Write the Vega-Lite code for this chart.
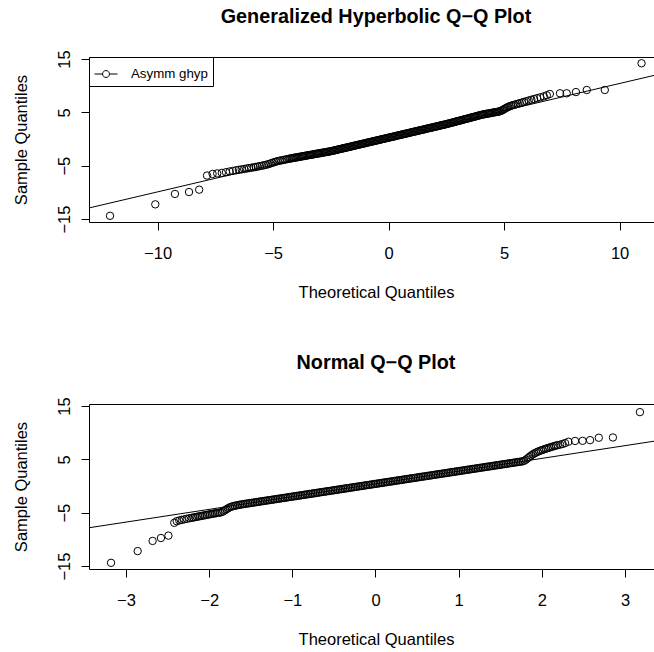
{
"$schema": "https://vega.github.io/schema/vega-lite/v6.json",
"padding": {"left": 12, "top": 7, "right": 0, "bottom": 0},
"bounds": "flush",
"spacing": 182,
"resolve": {"scale": {"color": "independent"}, "legend": {"color": "independent"}},
"config": {
  "font": "Liberation Sans",
  "view": {"stroke": null},
  "axis": {"grid": false, "domainColor": "black", "tickColor": "black", "labelColor": "black", "titleColor": "black", "labelFont": "Liberation Sans", "titleFont": "Liberation Sans", "labelFontSize": 16.5, "titleFontSize": 16.5, "titleFontWeight": "normal", "tickSize": 8, "domainWidth": 1, "tickWidth": 1, "labelFlush": false, "labelOverlap": false},
  "title": {"font": "Liberation Sans", "fontSize": 19.8, "fontWeight": "bold", "color": "black", "baseline": "alphabetic", "offset": 23, "dx": 4.5, "anchor": "middle"}
},
"datasets": {
"ghypLine": [{"q": -13.5, "s": -13.47}, {"q": 12.5, "s": 12.95}],
"normLine": [{"q": -3.6, "s": -8.2}, {"q": 3.6, "s": 9.0}],
"ghyp": [
{"q":-12.06,"s":-14.4},{"q":-10.1,"s":-12.25},{"q":-9.25,"s":-10.3},{"q":-8.64,"s":-9.94},{"q":-8.2,"s":-9.5},{"q":-7.86,"s":-6.85},
{"q":-7.62,"s":-6.55},{"q":-7.42,"s":-6.45},{"q":-7.22,"s":-6.35},{"q":-7.04,"s":-6.22},{"q":-6.88,"s":-6.08},{"q":-6.74,"s":-5.97},{"q":-6.6,"s":-5.86},{"q":-6.48,"s":-5.77},{"q":-6.36,"s":-5.69},{"q":-6.25,"s":-5.61},{"q":-6.14,"s":-5.53},{"q":-6.04,"s":-5.45},{"q":-5.94,"s":-5.38},{"q":-5.84,"s":-5.31},{"q":-5.75,"s":-5.24},{"q":-5.66,"s":-5.16},{"q":-5.57,"s":-5.08},{"q":-5.48,"s":-5.0},{"q":-5.39,"s":-4.92},{"q":-5.3,"s":-4.83},{"q":-5.21,"s":-4.72},{"q":-5.12,"s":-4.6},{"q":-5.04,"s":-4.47},{"q":-4.96,"s":-4.35},{"q":-4.88,"s":-4.24},{"q":-4.8,"s":-4.15},{"q":-4.72,"s":-4.07},{"q":-4.64,"s":-4.0},{"q":-4.56,"s":-3.93},{"q":-4.48,"s":-3.86},{"q":-4.4,"s":-3.79},{"q":-4.32,"s":-3.72},
{"q":-4.25,"s":-3.65},{"q":-4.2,"s":-3.61},{"q":-4.15,"s":-3.57},{"q":-4.1,"s":-3.53},{"q":-4.05,"s":-3.49},{"q":-4.0,"s":-3.45},{"q":-3.95,"s":-3.42},{"q":-3.9,"s":-3.38},{"q":-3.85,"s":-3.34},{"q":-3.8,"s":-3.3},{"q":-3.75,"s":-3.26},{"q":-3.7,"s":-3.22},{"q":-3.65,"s":-3.18},{"q":-3.6,"s":-3.14},{"q":-3.55,"s":-3.1},{"q":-3.5,"s":-3.07},{"q":-3.45,"s":-3.03},{"q":-3.4,"s":-2.99},{"q":-3.35,"s":-2.95},{"q":-3.3,"s":-2.91},{"q":-3.25,"s":-2.87},{"q":-3.2,"s":-2.83},{"q":-3.15,"s":-2.79},{"q":-3.1,"s":-2.75},{"q":-3.05,"s":-2.72},{"q":-3.0,"s":-2.68},{"q":-2.95,"s":-2.64},{"q":-2.9,"s":-2.6},{"q":-2.85,"s":-2.56},{"q":-2.8,"s":-2.52},{"q":-2.75,"s":-2.48},{"q":-2.7,"s":-2.45},{"q":-2.65,"s":-2.41},{"q":-2.6,"s":-2.37},{"q":-2.55,"s":-2.33},
{"q":-2.5,"s":-2.29},{"q":-2.45,"s":-2.24},{"q":-2.4,"s":-2.19},{"q":-2.35,"s":-2.14},{"q":-2.3,"s":-2.09},{"q":-2.25,"s":-2.04},{"q":-2.2,"s":-1.99},{"q":-2.15,"s":-1.93},{"q":-2.1,"s":-1.88},{"q":-2.05,"s":-1.83},{"q":-2.0,"s":-1.78},{"q":-1.95,"s":-1.73},{"q":-1.9,"s":-1.68},{"q":-1.85,"s":-1.63},{"q":-1.8,"s":-1.58},{"q":-1.75,"s":-1.53},{"q":-1.7,"s":-1.48},{"q":-1.65,"s":-1.43},{"q":-1.6,"s":-1.38},{"q":-1.55,"s":-1.32},{"q":-1.5,"s":-1.27},{"q":-1.45,"s":-1.22},{"q":-1.4,"s":-1.17},{"q":-1.35,"s":-1.12},{"q":-1.3,"s":-1.07},{"q":-1.25,"s":-1.02},{"q":-1.2,"s":-0.97},{"q":-1.15,"s":-0.92},{"q":-1.1,"s":-0.87},{"q":-1.05,"s":-0.82},{"q":-1.0,"s":-0.77},{"q":-0.95,"s":-0.72},{"q":-0.9,"s":-0.66},{"q":-0.85,"s":-0.61},{"q":-0.8,"s":-0.56},{"q":-0.75,"s":-0.51},{"q":-0.7,"s":-0.46},{"q":-0.65,"s":-0.41},{"q":-0.6,"s":-0.36},{"q":-0.55,"s":-0.31},{"q":-0.5,"s":-0.26},{"q":-0.45,"s":-0.21},{"q":-0.4,"s":-0.16},{"q":-0.35,"s":-0.11},{"q":-0.3,"s":-0.05},{"q":-0.25,"s":0.0},{"q":-0.2,"s":0.05},{"q":-0.15,"s":0.1},{"q":-0.1,"s":0.15},{"q":-0.05,"s":0.2},{"q":0.0,"s":0.25},{"q":0.05,"s":0.3},{"q":0.1,"s":0.35},{"q":0.15,"s":0.4},{"q":0.2,"s":0.45},{"q":0.25,"s":0.5},{"q":0.3,"s":0.55},{"q":0.35,"s":0.61},{"q":0.4,"s":0.66},{"q":0.45,"s":0.71},{"q":0.5,"s":0.76},{"q":0.55,"s":0.81},{"q":0.6,"s":0.86},{"q":0.65,"s":0.91},{"q":0.7,"s":0.96},{"q":0.75,"s":1.01},{"q":0.8,"s":1.06},{"q":0.85,"s":1.11},{"q":0.9,"s":1.16},{"q":0.95,"s":1.22},{"q":1.0,"s":1.27},{"q":1.05,"s":1.32},{"q":1.1,"s":1.37},{"q":1.15,"s":1.42},{"q":1.2,"s":1.47},{"q":1.25,"s":1.52},{"q":1.3,"s":1.57},{"q":1.35,"s":1.62},{"q":1.4,"s":1.67},{"q":1.45,"s":1.72},{"q":1.5,"s":1.77},{"q":1.55,"s":1.82},{"q":1.6,"s":1.88},{"q":1.65,"s":1.93},{"q":1.7,"s":1.98},{"q":1.75,"s":2.03},{"q":1.8,"s":2.08},{"q":1.85,"s":2.13},{"q":1.9,"s":2.18},{"q":1.95,"s":2.23},{"q":2.0,"s":2.28},{"q":2.05,"s":2.33},{"q":2.1,"s":2.38},{"q":2.15,"s":2.43},{"q":2.2,"s":2.49},{"q":2.25,"s":2.54},{"q":2.3,"s":2.59},{"q":2.35,"s":2.64},{"q":2.4,"s":2.69},{"q":2.45,"s":2.74},
{"q":2.5,"s":2.79},{"q":2.55,"s":2.85},{"q":2.6,"s":2.9},{"q":2.65,"s":2.96},{"q":2.7,"s":3.02},{"q":2.75,"s":3.08},{"q":2.8,"s":3.13},{"q":2.85,"s":3.19},{"q":2.9,"s":3.25},{"q":2.95,"s":3.31},{"q":3.0,"s":3.36},{"q":3.05,"s":3.42},{"q":3.1,"s":3.48},{"q":3.15,"s":3.53},{"q":3.2,"s":3.59},{"q":3.25,"s":3.65},{"q":3.3,"s":3.71},{"q":3.35,"s":3.76},{"q":3.4,"s":3.82},{"q":3.45,"s":3.88},{"q":3.5,"s":3.94},{"q":3.55,"s":3.99},{"q":3.6,"s":4.05},{"q":3.65,"s":4.11},{"q":3.7,"s":4.16},{"q":3.75,"s":4.22},{"q":3.8,"s":4.28},{"q":3.85,"s":4.34},{"q":3.9,"s":4.39},{"q":3.95,"s":4.45},{"q":4.0,"s":4.51},{"q":4.05,"s":4.57},
{"q":4.1,"s":4.61},{"q":4.15,"s":4.65},{"q":4.2,"s":4.69},{"q":4.25,"s":4.73},{"q":4.3,"s":4.77},{"q":4.35,"s":4.81},{"q":4.4,"s":4.85},{"q":4.45,"s":4.89},{"q":4.5,"s":4.93},{"q":4.55,"s":4.97},{"q":4.6,"s":5.01},{"q":4.65,"s":5.05},{"q":4.7,"s":5.09},{"q":4.75,"s":5.13},{"q":4.8,"s":5.18},{"q":4.85,"s":5.25},{"q":4.9,"s":5.34},{"q":4.95,"s":5.46},{"q":5.0,"s":5.6},{"q":5.06,"s":5.75},{"q":5.12,"s":5.9},{"q":5.18,"s":6.03},{"q":5.24,"s":6.14},{"q":5.3,"s":6.24},{"q":5.37,"s":6.33},{"q":5.44,"s":6.42},{"q":5.52,"s":6.52},{"q":5.6,"s":6.62},{"q":5.68,"s":6.72},{"q":5.77,"s":6.83},{"q":5.86,"s":6.95},{"q":5.96,"s":7.08},{"q":6.07,"s":7.22},{"q":6.18,"s":7.36},{"q":6.3,"s":7.5},{"q":6.43,"s":7.66},{"q":6.57,"s":7.82},{"q":6.72,"s":8.0},{"q":6.85,"s":8.2},
{"q":6.98,"s":8.44},{"q":7.42,"s":8.57},{"q":7.71,"s":8.57},{"q":8.11,"s":8.8},{"q":8.58,"s":9.19},{"q":9.36,"s":9.19},{"q":10.95,"s":14.2}
],
"norm": [
{"q":-3.18,"s":-14.4},{"q":-2.86,"s":-12.2},{"q":-2.68,"s":-10.3},{"q":-2.58,"s":-9.75},{"q":-2.49,"s":-9.3},{"q":-2.42,"s":-6.9},
{"q":-2.39,"s":-6.6},{"q":-2.36,"s":-6.45},{"q":-2.33,"s":-6.35},{"q":-2.3,"s":-6.25},{"q":-2.27,"s":-6.15},{"q":-2.24,"s":-6.05},{"q":-2.21,"s":-5.97},{"q":-2.19,"s":-5.9},{"q":-2.17,"s":-5.84},{"q":-2.15,"s":-5.78},{"q":-2.13,"s":-5.72},{"q":-2.11,"s":-5.66},{"q":-2.09,"s":-5.6},{"q":-2.07,"s":-5.54},{"q":-2.05,"s":-5.48},{"q":-2.03,"s":-5.42},{"q":-2.01,"s":-5.36},{"q":-1.99,"s":-5.3},{"q":-1.97,"s":-5.24},{"q":-1.95,"s":-5.18},{"q":-1.93,"s":-5.13},{"q":-1.91,"s":-5.08},{"q":-1.89,"s":-5.03},{"q":-1.87,"s":-4.98},{"q":-1.85,"s":-4.9},{"q":-1.83,"s":-4.75},{"q":-1.81,"s":-4.55},{"q":-1.79,"s":-4.35},{"q":-1.77,"s":-4.15},{"q":-1.75,"s":-3.98},{"q":-1.73,"s":-3.86},{"q":-1.71,"s":-3.77},{"q":-1.69,"s":-3.7},{"q":-1.67,"s":-3.64},{"q":-1.65,"s":-3.57},{"q":-1.63,"s":-3.5},
{"q":-1.61,"s":-3.45},{"q":-1.59,"s":-3.4},{"q":-1.57,"s":-3.35},{"q":-1.55,"s":-3.3},{"q":-1.53,"s":-3.26},{"q":-1.51,"s":-3.21},{"q":-1.49,"s":-3.16},{"q":-1.47,"s":-3.11},{"q":-1.45,"s":-3.07},{"q":-1.43,"s":-3.02},{"q":-1.41,"s":-2.97},{"q":-1.39,"s":-2.92},{"q":-1.37,"s":-2.87},{"q":-1.35,"s":-2.83},{"q":-1.33,"s":-2.78},{"q":-1.31,"s":-2.73},{"q":-1.29,"s":-2.68},{"q":-1.27,"s":-2.64},{"q":-1.25,"s":-2.59},{"q":-1.23,"s":-2.54},{"q":-1.21,"s":-2.49},{"q":-1.19,"s":-2.44},{"q":-1.17,"s":-2.4},{"q":-1.15,"s":-2.35},{"q":-1.13,"s":-2.3},{"q":-1.11,"s":-2.25},{"q":-1.09,"s":-2.21},{"q":-1.07,"s":-2.16},{"q":-1.05,"s":-2.11},{"q":-1.03,"s":-2.06},{"q":-1.01,"s":-2.01},{"q":-0.99,"s":-1.97},{"q":-0.97,"s":-1.92},{"q":-0.95,"s":-1.87},{"q":-0.93,"s":-1.82},{"q":-0.91,"s":-1.78},{"q":-0.89,"s":-1.73},{"q":-0.87,"s":-1.68},{"q":-0.85,"s":-1.63},{"q":-0.83,"s":-1.58},{"q":-0.81,"s":-1.54},{"q":-0.79,"s":-1.49},{"q":-0.77,"s":-1.44},{"q":-0.75,"s":-1.39},{"q":-0.73,"s":-1.35},{"q":-0.71,"s":-1.3},{"q":-0.69,"s":-1.25},{"q":-0.67,"s":-1.2},{"q":-0.65,"s":-1.15},{"q":-0.63,"s":-1.11},{"q":-0.61,"s":-1.06},{"q":-0.59,"s":-1.01},{"q":-0.57,"s":-0.96},{"q":-0.55,"s":-0.92},{"q":-0.53,"s":-0.87},{"q":-0.51,"s":-0.82},{"q":-0.49,"s":-0.77},{"q":-0.47,"s":-0.72},{"q":-0.45,"s":-0.68},{"q":-0.43,"s":-0.63},{"q":-0.41,"s":-0.58},{"q":-0.39,"s":-0.53},{"q":-0.37,"s":-0.48},{"q":-0.35,"s":-0.44},{"q":-0.33,"s":-0.39},{"q":-0.31,"s":-0.34},{"q":-0.29,"s":-0.29},{"q":-0.27,"s":-0.25},{"q":-0.25,"s":-0.2},{"q":-0.23,"s":-0.15},{"q":-0.21,"s":-0.1},{"q":-0.19,"s":-0.05},{"q":-0.17,"s":-0.01},{"q":-0.15,"s":0.04},{"q":-0.13,"s":0.09},{"q":-0.11,"s":0.14},{"q":-0.09,"s":0.19},{"q":-0.07,"s":0.23},{"q":-0.05,"s":0.28},{"q":-0.03,"s":0.33},{"q":-0.01,"s":0.38},{"q":0.01,"s":0.42},{"q":0.03,"s":0.47},{"q":0.05,"s":0.52},{"q":0.07,"s":0.57},{"q":0.09,"s":0.62},{"q":0.11,"s":0.66},{"q":0.13,"s":0.71},{"q":0.15,"s":0.76},{"q":0.17,"s":0.81},{"q":0.19,"s":0.85},{"q":0.21,"s":0.9},{"q":0.23,"s":0.95},{"q":0.25,"s":1.0},{"q":0.27,"s":1.05},{"q":0.29,"s":1.09},{"q":0.31,"s":1.14},{"q":0.33,"s":1.19},{"q":0.35,"s":1.24},{"q":0.37,"s":1.28},{"q":0.39,"s":1.33},{"q":0.41,"s":1.38},{"q":0.43,"s":1.43},{"q":0.45,"s":1.48},{"q":0.47,"s":1.52},{"q":0.49,"s":1.57},{"q":0.51,"s":1.62},{"q":0.53,"s":1.67},{"q":0.55,"s":1.72},{"q":0.57,"s":1.76},{"q":0.59,"s":1.81},{"q":0.61,"s":1.86},{"q":0.63,"s":1.91},{"q":0.65,"s":1.95},{"q":0.67,"s":2.0},{"q":0.69,"s":2.05},{"q":0.71,"s":2.1},{"q":0.73,"s":2.15},{"q":0.75,"s":2.19},{"q":0.77,"s":2.24},{"q":0.79,"s":2.29},{"q":0.81,"s":2.34},{"q":0.83,"s":2.38},{"q":0.85,"s":2.43},{"q":0.87,"s":2.48},{"q":0.89,"s":2.53},{"q":0.91,"s":2.58},{"q":0.93,"s":2.62},{"q":0.95,"s":2.67},{"q":0.97,"s":2.72},{"q":0.99,"s":2.77},{"q":1.01,"s":2.81},{"q":1.03,"s":2.86},{"q":1.05,"s":2.91},{"q":1.07,"s":2.96},{"q":1.09,"s":3.01},{"q":1.11,"s":3.05},{"q":1.13,"s":3.1},{"q":1.15,"s":3.15},{"q":1.17,"s":3.2},{"q":1.19,"s":3.24},{"q":1.21,"s":3.29},{"q":1.23,"s":3.34},{"q":1.25,"s":3.39},{"q":1.27,"s":3.44},{"q":1.29,"s":3.48},{"q":1.31,"s":3.53},{"q":1.33,"s":3.58},{"q":1.35,"s":3.63},{"q":1.37,"s":3.67},{"q":1.39,"s":3.72},{"q":1.41,"s":3.77},{"q":1.43,"s":3.82},{"q":1.45,"s":3.87},{"q":1.47,"s":3.91},{"q":1.49,"s":3.96},{"q":1.51,"s":4.01},{"q":1.53,"s":4.06},{"q":1.55,"s":4.1},{"q":1.57,"s":4.15},{"q":1.59,"s":4.2},{"q":1.61,"s":4.25},{"q":1.63,"s":4.3},{"q":1.65,"s":4.34},{"q":1.67,"s":4.39},{"q":1.69,"s":4.44},{"q":1.71,"s":4.49},{"q":1.73,"s":4.53},{"q":1.75,"s":4.58},{"q":1.77,"s":4.63},
{"q":1.79,"s":4.75},{"q":1.81,"s":4.95},{"q":1.83,"s":5.2},{"q":1.85,"s":5.45},{"q":1.87,"s":5.7},{"q":1.89,"s":5.92},{"q":1.91,"s":6.1},{"q":1.93,"s":6.27},{"q":1.95,"s":6.42},{"q":1.97,"s":6.55},{"q":1.99,"s":6.67},{"q":2.01,"s":6.78},{"q":2.03,"s":6.89},{"q":2.05,"s":7.0},{"q":2.07,"s":7.1},{"q":2.09,"s":7.2},{"q":2.11,"s":7.3},{"q":2.13,"s":7.4},{"q":2.15,"s":7.5},{"q":2.17,"s":7.58},{"q":2.19,"s":7.66},{"q":2.22,"s":7.76},{"q":2.25,"s":7.88},{"q":2.28,"s":8.05},
{"q":2.32,"s":8.3},{"q":2.4,"s":8.45},{"q":2.49,"s":8.47},{"q":2.58,"s":8.6},{"q":2.685,"s":9.05},{"q":2.855,"s":9.1},{"q":3.18,"s":13.85}
]
},
"vconcat": [
{
  "width": 565, "height": 165,
  "title": {"text": "Generalized Hyperbolic Q−Q Plot", "offset": 23},
  "resolve": {"axis": {"x": "independent"}},
  "layer": [
    {
      "data": {"name": "ghypLine"},
      "mark": {"type": "line", "clip": true, "color": "black", "strokeWidth": 1},
      "encoding": {
        "x": {"field": "q", "type": "quantitative", "scale": {"domain": [-12.97, 11.49], "nice": false, "zero": false}, "axis": {"orient": "top", "labels": false, "ticks": false, "title": null, "domain": true}},
        "y": {"field": "s", "type": "quantitative", "scale": {"domain": [-15.56, 15.375], "nice": false, "zero": false}}
      }
    },
    {
      "data": {"name": "ghyp"},
      "mark": {"type": "point", "shape": "circle", "filled": false, "size": 55, "strokeWidth": 1, "opacity": 1},
      "encoding": {
        "x": {"field": "q", "type": "quantitative", "scale": {"domain": [-12.97, 11.49], "nice": false, "zero": false},
              "axis": {"orient": "bottom", "values": [-10, -5, 0, 5, 10], "title": "Theoretical Quantiles", "labelBaseline": "alphabetic", "labelPadding": 28, "titleX": 287, "titleY": 75, "titleBaseline": "alphabetic", "titleAlign": "center"}},
        "y": {"field": "s", "type": "quantitative", "scale": {"domain": [-15.56, 15.375], "nice": false, "zero": false},
              "axis": {"values": [-15, -10, -5, 0, 5, 10, 15], "labelExpr": "datum.value % 10 === 0 ? '' : datum.label", "labelAngle": -90, "labelAlign": "center", "labelBaseline": "alphabetic", "labelPadding": 12, "title": "Sample Quantiles", "titleX": -63, "titleBaseline": "alphabetic", "titleAngle": -90}},
        "color": {"datum": "Asymm ghyp", "type": "nominal", "scale": {"range": ["black"]},
          "legend": {"orient": "top-left", "offset": 0, "title": null, "padding": 5, "strokeColor": "black", "fillColor": "white", "symbolType": "M-1,0H-0.32M0.32,0H1M0.3,0A0.3,0.3,0,1,1,-0.3,0A0.3,0.3,0,1,1,0.3,0", "symbolSize": 529, "symbolStrokeWidth": 1, "symbolStrokeColor": "black", "symbolFillColor": "transparent", "labelFontSize": 13.3, "labelOffset": 13, "labelColor": "black", "labelFont": "Liberation Sans"}}
      }
    }
  ]
},
{
  "width": 565, "height": 165,
  "title": {"text": "Normal Q−Q Plot", "offset": 24},
  "resolve": {"axis": {"x": "independent"}},
  "layer": [
    {
      "data": {"name": "normLine"},
      "mark": {"type": "line", "clip": true, "color": "black", "strokeWidth": 1},
      "encoding": {
        "x": {"field": "q", "type": "quantitative", "scale": {"domain": [-3.445, 3.349], "nice": false, "zero": false}, "axis": {"orient": "top", "labels": false, "ticks": false, "title": null, "domain": true}},
        "y": {"field": "s", "type": "quantitative", "scale": {"domain": [-15.56, 15.375], "nice": false, "zero": false}}
      }
    },
    {
      "data": {"name": "norm"},
      "mark": {"type": "point", "shape": "circle", "filled": false, "size": 55, "strokeWidth": 1, "opacity": 1, "color": "black"},
      "encoding": {
        "x": {"field": "q", "type": "quantitative", "scale": {"domain": [-3.445, 3.349], "nice": false, "zero": false},
              "axis": {"orient": "bottom", "values": [-3, -2, -1, 0, 1, 2, 3], "title": "Theoretical Quantiles", "labelBaseline": "alphabetic", "labelPadding": 28, "titleX": 287, "titleY": 75, "titleBaseline": "alphabetic", "titleAlign": "center"}},
        "y": {"field": "s", "type": "quantitative", "scale": {"domain": [-15.56, 15.375], "nice": false, "zero": false},
              "axis": {"values": [-15, -10, -5, 0, 5, 10, 15], "labelExpr": "datum.value % 10 === 0 ? '' : datum.label", "labelAngle": -90, "labelAlign": "center", "labelBaseline": "alphabetic", "labelPadding": 12, "title": "Sample Quantiles", "titleX": -63, "titleBaseline": "alphabetic", "titleAngle": -90}}
      }
    }
  ]
}
]
}
